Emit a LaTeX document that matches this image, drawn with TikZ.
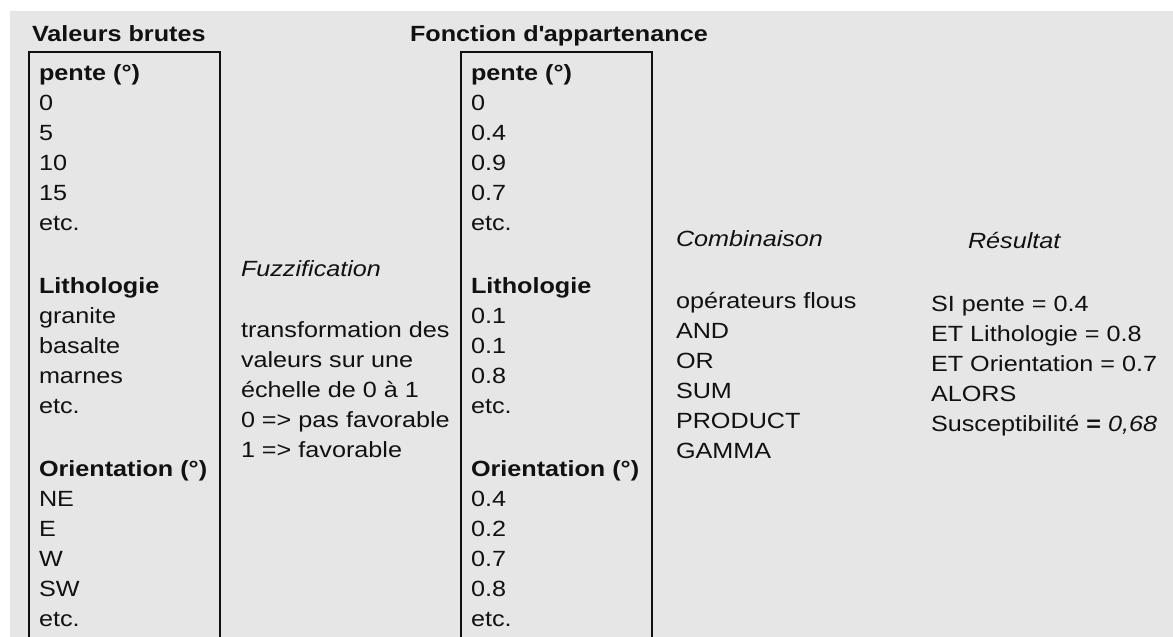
\documentclass[tikz,border=0pt]{standalone}
\usepackage{fontspec}
\setmainfont{Liberation Sans}[FakeStretch=1.145]
\definecolor{bgc}{HTML}{E6E6E6}
\definecolor{ink}{HTML}{111111}
\begin{document}
\begin{tikzpicture}[x=1pt,y=-1pt,
  txt/.style={anchor=base west, inner sep=0pt, outer sep=0pt, text=ink, font=\fontsize{22}{26}\selectfont},
  hd/.style={txt, font=\fontsize{22}{26}\selectfont\bfseries},
  it/.style={txt, font=\fontsize{22}{26}\selectfont\itshape},
  colbox/.style={draw=ink, line width=2pt, anchor=north west, inner sep=0pt, minimum width=191pt, minimum height=640pt}]
\useasboundingbox (0,0) rectangle (1173,637);
\fill[white] (0,0) rectangle (1173,637);
\fill[bgc] (10,11) rectangle (1173,637);

% column boxes (open at the bottom, running off the page)
\node[colbox] (boxA) at (27.5,51) {};
\node[colbox, minimum width=191.5pt] (boxB) at (459.5,51) {};

% titles
\node[hd] (tA) at (32,41) {Valeurs brutes};
\node[hd] (tB) at (410,41) {Fonction d\textquotesingle appartenance};

% raw values
\node[hd]  (a0)  at (39,80)  {pente (°)};
\node[txt] (a1)  at (39,110) {0};
\node[txt] (a2)  at (39,140) {5};
\node[txt] (a3)  at (39,170) {10};
\node[txt] (a4)  at (39,200) {15};
\node[txt] (a5)  at (39,230) {etc.};
\node[hd]  (a6)  at (39,293) {Lithologie};
\node[txt] (a7)  at (39,323) {granite};
\node[txt] (a8)  at (39,353) {basalte};
\node[txt] (a9)  at (39,383) {marnes};
\node[txt] (a10) at (39,413) {etc.};
\node[hd]  (a11) at (39,476) {Orientation (°)};
\node[txt] (a12) at (39,506) {NE};
\node[txt] (a13) at (39,536) {E};
\node[txt] (a14) at (39,566) {W};
\node[txt] (a15) at (39,596) {SW};
\node[txt] (a16) at (39,626) {etc.};

% membership values
\node[hd]  (b0)  at (471,80)  {pente (°)};
\node[txt] (b1)  at (471,110) {0};
\node[txt] (b2)  at (471,140) {0.4};
\node[txt] (b3)  at (471,170) {0.9};
\node[txt] (b4)  at (471,200) {0.7};
\node[txt] (b5)  at (471,230) {etc.};
\node[hd]  (b6)  at (471,293) {Lithologie};
\node[txt] (b7)  at (471,323) {0.1};
\node[txt] (b8)  at (471,353) {0.1};
\node[txt] (b9)  at (471,383) {0.8};
\node[txt] (b10) at (471,413) {etc.};
\node[hd]  (b11) at (471,476) {Orientation (°)};
\node[txt] (b12) at (471,506) {0.4};
\node[txt] (b13) at (471,536) {0.2};
\node[txt] (b14) at (471,566) {0.7};
\node[txt] (b15) at (471,596) {0.8};
\node[txt] (b16) at (471,626) {etc.};

% fuzzification
\node[it]  (f0) at (241,276) {Fuzzification};
\node[txt] (f1) at (241,337) {transformation des};
\node[txt] (f2) at (241,367) {valeurs sur une};
\node[txt] (f3) at (241,397) {échelle de 0 à 1};
\node[txt] (f4) at (241,427) {0 => pas favorable};
\node[txt] (f5) at (241,457) {1 => favorable};

% combination
\node[it]  (c0) at (676,246) {Combinaison};
\node[txt] (c1) at (676,308) {opérateurs flous};
\node[txt] (c2) at (676,338) {AND};
\node[txt] (c3) at (676,368) {OR};
\node[txt] (c4) at (676,398) {SUM};
\node[txt] (c5) at (676,428) {PRODUCT};
\node[txt] (c6) at (676,458) {GAMMA};

% result
\node[it]  (r0) at (968,248) {Résultat};
\node[txt] (r1) at (931,311) {SI pente = 0.4};
\node[txt] (r2) at (931,341) {ET Lithologie = 0.8};
\node[txt] (r3) at (931,371) {ET Orientation = 0.7};
\node[txt] (r4) at (931,401) {ALORS};
\node[txt] (r5) at (931,431) {Susceptibilité \textbf{=} \textit{0,68}};
\end{tikzpicture}
\end{document}
